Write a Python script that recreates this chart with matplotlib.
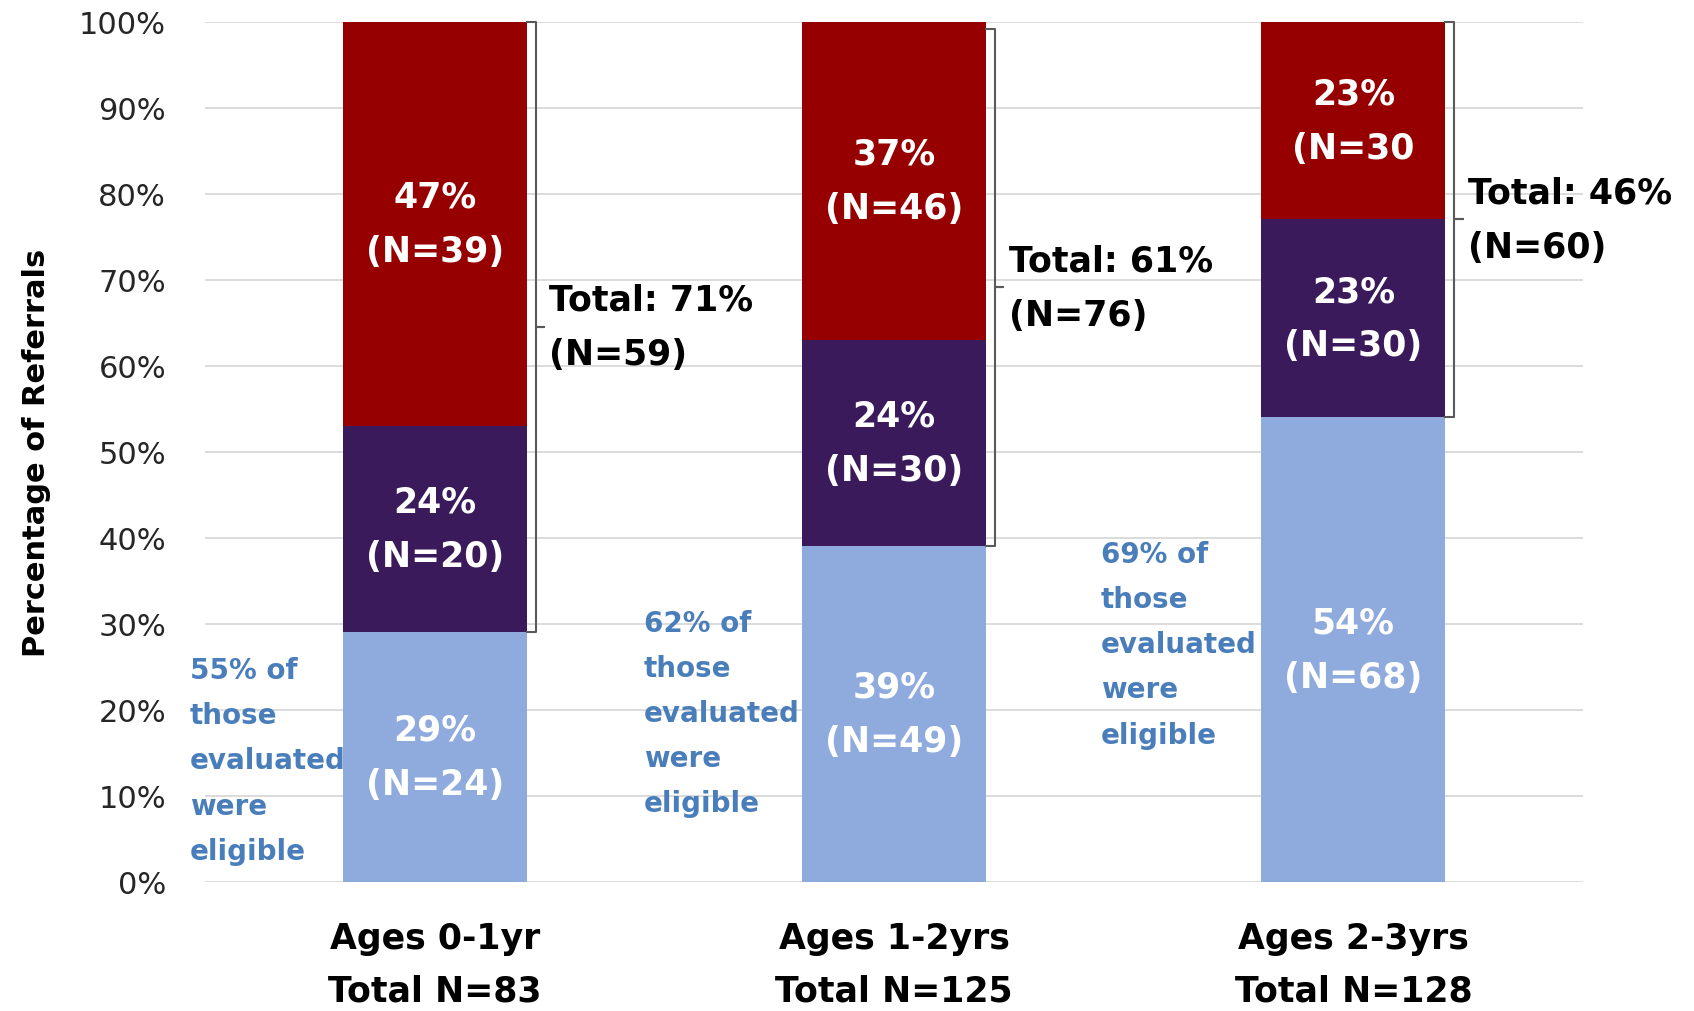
import matplotlib.pyplot as plt
import numpy as np

# data
groups = ["Ages 0-1yr\nTotal N=83", "Ages 1-2yrs\nTotal N=125", "Ages 2-3yrs\nTotal N=128"]
eligible_pct = [29, 39, 54]
purple_pct = [24, 24, 23]
red_pct = [47, 37, 23]
eligible_lbl = ["29%\n(N=24)", "39%\n(N=49)", "54%\n(N=68)"]
purple_lbl = ["24%\n(N=20)", "24%\n(N=30)", "23%\n(N=30)"]
red_lbl = ["47%\n(N=39)", "37%\n(N=46)", "23%\n(N=30"]
total_lbl = ["Total: 71%\n(N=59)", "Total: 61%\n(N=76)", "Total: 46%\n(N=60)"]
bracket_top = [100, 99.2, 100]
note_lbl = ["55% of\nthose\nevaluated\nwere\neligible",
            "62% of\nthose\nevaluated\nwere\neligible",
            "69% of\nthose\nevaluated\nwere\neligible"]
note_x = [-0.533, 0.455, 1.45]
note_y = [14.1, 19.6, 27.6]

c_light = "#8FAADC"
c_purple = "#3B1A5B"
c_red = "#960000"
c_note = "#4A7EBB"

fig = plt.figure(figsize=(16.94, 10.12), dpi=100)
ax = fig.add_axes([0.121, 0.1278, 0.8135, 0.8498])

x = np.arange(len(groups))
w = 0.4
light = np.array(eligible_pct)
purple = np.array(purple_pct)
red = np.array(red_pct)

ax.bar(x, light, w, color=c_light, zorder=2)
ax.bar(x, purple, w, bottom=light, color=c_purple, zorder=2)
ax.bar(x, red, w, bottom=light + purple, color=c_red, zorder=2)

lbl_kw = dict(ha="center", va="center", color="white", fontsize=25,
              fontweight="bold", linespacing=1.75, zorder=3)
for i in range(len(x)):
    ax.text(x[i], light[i] / 2, eligible_lbl[i], **lbl_kw)
    ax.text(x[i], light[i] + purple[i] / 2, purple_lbl[i], **lbl_kw)
    ax.text(x[i], light[i] + purple[i] + red[i] / 2, red_lbl[i], **lbl_kw)

    # bracket over purple + red
    edge = x[i] + w / 2
    xv = edge + 0.02
    lo, hi = light[i], bracket_top[i]
    mid = (lo + hi) / 2
    ax.plot([edge, xv, xv, xv + 0.018, xv, xv, edge],
            [lo, lo, mid, mid, mid, hi, hi],
            color="#595959", lw=1.5, zorder=3, clip_on=False)
    ax.text(edge + 0.05, mid, total_lbl[i], ha="left", va="center",
            fontsize=25, fontweight="bold", color="black", linespacing=1.75)

    # blue side note
    ax.text(note_x[i], note_y[i], note_lbl[i], ha="left", va="center",
            fontsize=20, fontweight="bold", color=c_note, linespacing=1.78,
            zorder=4)

ax.set_xlim(-0.5, 2.5)
ax.set_ylim(0, 100)
ax.set_yticks(np.arange(0, 101, 10))
ax.set_yticklabels([f"{v}%" for v in range(0, 101, 10)], fontsize=22, color="#262626")
ax.set_xticks(x)
ax.set_xticklabels(groups, fontsize=25, fontweight="bold", linespacing=1.7)
ax.tick_params(axis="y", length=0, pad=28)
ax.tick_params(axis="x", length=0, pad=28)

for s in ax.spines.values():
    s.set_visible(False)
ax.yaxis.grid(True, color="#D9D9D9", lw=1.3, zorder=0)
ax.set_axisbelow(True)

ax.set_ylabel("Percentage of Referrals", fontsize=22, fontweight="bold", labelpad=20)

fig.savefig("out.png", dpi=100)
